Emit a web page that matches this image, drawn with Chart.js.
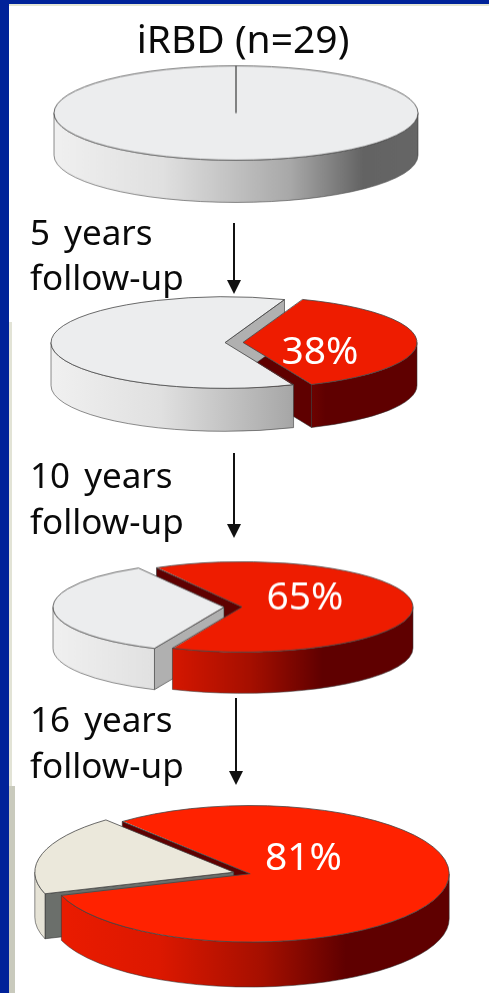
<!DOCTYPE html>
<html>
<head>
<meta charset="utf-8">
<title>iRBD follow-up</title>
<script src="https://cdn.jsdelivr.net/npm/chart.js@4"></script>
<style>
	html, body { margin: 0; padding: 0; }
	body { width: 489px; height: 993px; overflow: hidden; background: #fff; position: relative; }
	.frame { position: absolute; background: #002299; }
	.strip { position: absolute; background: #c9cabd; }
	.txt { position: absolute; color: #0a0a0a; font-family: "Noto Sans", sans-serif; font-size: 35px; line-height: 46px; word-spacing: 5px; white-space: nowrap; filter: blur(0.4px); }
	.title { font-size: 39px; word-spacing: 0; }
	canvas { position: absolute; filter: blur(0.4px); }
	svg { position: absolute; }
</style>
</head>
<body>
<div class="frame" style="left:0;top:0;width:489px;height:4px"></div>
<div class="strip" style="left:0;top:4px;width:489px;height:2px;background:#e4e6d4"></div>
<div class="frame" style="left:0;top:0;width:9px;height:993px"></div>
<div class="strip" style="left:9px;top:322px;width:3px;height:464px;background:#e2e3d6"></div>
<div class="strip" style="left:9px;top:786px;width:6px;height:207px"></div>
<div id="page"></div>

<script>
const chartTitle = "iRBD (n=29)";
const followUpYears = ["5 years", "10 years", "16 years"];
const followUpWord = "follow-up";
const convertedPct = [0, 38, 65, 81];
const remainingPct = [100, 62, 35, 19];

// where each pie sits on the page, and how it looks
const pieLayout = [
	{ cx: 236, cy: 113, rx: 182, squash: 0.258, depth: 42, offset: 0, rotation: 0 },
	{ cx: 234, cy: 342.5, rx: 174, squash: 0.263, depth: 43, offset: 36, rotation: 20 },
	{ cx: 233, cy: 607, rx: 171, squash: 0.263, depth: 41, offset: 36, rotation: -30 },
	{ cx: 241.5, cy: 873, rx: 199, squash: 0.343, depth: 45, offset: 34, rotation: -40 },
];
const labelPos = [null, [320, 353], [305, 598], [303, 859]];
const redTop = ["#ee1c00", "#ee1c00", "#ee1c00", "#ff2200"];
const greyTop = ["#ecedee", "#ecedee", "#ecedee", "#ebe8db"];
const greyFace = ["#b0b0b0", "#b0b0b0", "#b0b0b0", "#6b6f6b"];
const redStops = [[0, "#ee1c00"], [0.3, "#dc1800"], [0.55, "#a50f00"], [0.75, "#5f0000"], [1, "#5f0000"]];
const greyStops = [[0, "#f0f0f0"], [0.3, "#e0e0e0"], [0.65, "#a8a8a8"], [0.85, "#636363"], [1, "#666666"]];
const beigeStops = [[0, "#e6e3d6"], [1, "#d8d5c8"]];

// the arc element paints itself wider than outerRadius when it has an offset
function radiusGrowth(arc) {
	const off = (arc.options.offset || 0) / 4;
	return off * (1 - Math.sin(Math.min(Math.PI, arc.circumference || 0)));
}

/**
 * Screen geometry of one arc element once squashed and pushed out by its offset
 */
function arcShape(arc, k) {
	const p = arc.getProps(["x", "y", "startAngle", "endAngle", "outerRadius"], true);
	const off = (arc.options.offset || 0) / 4;
	const mid = (p.startAngle + p.endAngle) / 2;
	const r = p.outerRadius + radiusGrowth(arc);
	return {
		x: p.x + Math.cos(mid) * off,
		y: p.y + Math.sin(mid) * off * k,
		rx: r,
		ry: r * k,
		start: p.startAngle,
		end: p.endAngle,
	};
}

// parts of the arc that face the viewer, angles between 0 and PI
function frontRanges(s) {
	const out = [];
	for (let n = -2; n <= 2; n++) {
		const a = Math.max(s.start, n * 2 * Math.PI);
		const b = Math.min(s.end, n * 2 * Math.PI + Math.PI);
		if (b > a) out.push([a, b]);
	}
	return out;
}

function holdsFront(s) {
	for (let n = -2; n <= 2; n++) {
		const bottom = Math.PI / 2 + n * 2 * Math.PI;
		if (s.start < bottom && s.end > bottom) return 1;
	}
	return 0;
}

function makeGradient(ctx, left, right, stops) {
	const g = ctx.createLinearGradient(left, 0, right, 0);
	stops.forEach((st) => g.addColorStop(st[0], st[1]));
	return g;
}

function drawFace(ctx, s, a, depth, color) {
	const ex = s.x + Math.cos(a) * s.rx;
	const ey = s.y + Math.sin(a) * s.ry;
	ctx.beginPath();
	ctx.moveTo(s.x, s.y);
	ctx.lineTo(ex, ey);
	ctx.lineTo(ex, ey + depth);
	ctx.lineTo(s.x, s.y + depth);
	ctx.closePath();
	ctx.fillStyle = color;
	ctx.fill();
	ctx.strokeStyle = "rgba(50,50,50,0.6)";
	ctx.lineWidth = 1;
	ctx.stroke();
}

function drawWall(ctx, s, range, depth, fill) {
	ctx.beginPath();
	ctx.ellipse(s.x, s.y, s.rx, s.ry, 0, range[0], range[1]);
	ctx.ellipse(s.x, s.y + depth, s.rx, s.ry, 0, range[1], range[0], true);
	ctx.closePath();
	ctx.fillStyle = fill;
	ctx.fill();
	ctx.strokeStyle = "rgba(50,50,50,0.55)";
	ctx.lineWidth = 1;
	ctx.stroke();
}

// draws side walls under the library's arcs and squashes the arcs into ellipses
const pie3d = {
	id: "pie3d",
	afterDatasetsUpdate(chart, args, opts) {
		// keep both slices of a pie on the same radius
		chart.getDatasetMeta(0).data.forEach((arc) => {
			arc.outerRadius = opts.rx - radiusGrowth(arc);
		});
	},
	beforeDatasetsDraw(chart, args, opts) {
		const ctx = chart.ctx;
		const k = opts.squash;
		const arcs = chart.getDatasetMeta(0).data;
		const shapes = arcs.map((a) => arcShape(a, k));
		const left = chart.width / 2 - opts.rx - opts.offset / 4;
		const right = chart.width / 2 + opts.rx + opts.offset / 4;
		const used = shapes.map((s, i) => i).filter((i) => arcs[i].circumference > 0);

		// radial cut faces turned towards the viewer go first
		used.forEach((i) => {
			const s = shapes[i];
			if (Math.sin(s.start - Math.PI / 2) > 0) drawFace(ctx, s, s.start, opts.depth, opts.faces[i]);
			if (Math.sin(s.end + Math.PI / 2) > 0) drawFace(ctx, s, s.end, opts.depth, opts.faces[i]);
		});

		// the wall holding the very front of the pie is painted last
		used.sort((a, b) => holdsFront(shapes[a]) - holdsFront(shapes[b]));
		used.forEach((i) => {
			const fill = makeGradient(ctx, left, right, opts.walls[i]);
			frontRanges(shapes[i]).forEach((r) => drawWall(ctx, shapes[i], r, opts.depth, fill));
		});

		const cx = chart.width / 2;
		const cy = chart.height / 2;
		ctx.save();
		ctx.translate(cx, cy);
		ctx.scale(1, k);
		ctx.translate(-cx, -cy);
	},
	afterDatasetsDraw(chart, args, opts) {
		const ctx = chart.ctx;
		ctx.restore();
		chart.getDatasetMeta(0).data.forEach((arc) => {
			if (arc.circumference <= 0) return;
			const s = arcShape(arc, opts.squash);
			ctx.beginPath();
			ctx.moveTo(s.x, s.y);
			ctx.ellipse(s.x, s.y, s.rx, s.ry, 0, s.start, s.end);
			ctx.closePath();
			ctx.strokeStyle = "rgba(70,70,70,0.8)";
			ctx.lineWidth = 1;
			ctx.stroke();
		});
		if (opts.label) {
			const box = chart.canvas.getBoundingClientRect();
			ctx.fillStyle = "#ffffff";
			ctx.font = '39px "Noto Sans", sans-serif';
			ctx.textAlign = "center";
			ctx.textBaseline = "middle";
			ctx.fillText(opts.label, opts.labelAt[0] - box.left, opts.labelAt[1] - box.top);
		}
	},
};

function addText(text, left, top, cls) {
	const el = document.createElement("div");
	el.className = "txt " + (cls || "");
	el.textContent = text;
	el.style.left = left + "px";
	el.style.top = top + "px";
	if (cls) el.style.transform = "translateX(-50%)";
	document.getElementById("page").appendChild(el);
}

function addArrow(x, top, bottom) {
	const ns = "http://www.w3.org/2000/svg";
	const svg = document.createElementNS(ns, "svg");
	svg.setAttribute("width", 20);
	svg.setAttribute("height", bottom - top);
	svg.style.left = x - 10 + "px";
	svg.style.top = top + "px";
	const h = bottom - top;
	svg.innerHTML = `<path d="M10 0V${h - 12}" stroke="#111" stroke-width="2" fill="none"/><path d="M3 ${h - 14}H17L10 ${h}Z" fill="#111"/>`;
	document.getElementById("page").appendChild(svg);
}

function drawPie(i) {
	const l = pieLayout[i];
	const canvas = document.createElement("canvas");
	const w = 2 * (l.rx + 30);
	const h = 2 * (l.rx * l.squash + l.depth + 20);
	canvas.width = w;
	canvas.height = h;
	canvas.style.left = l.cx - w / 2 + "px";
	canvas.style.top = l.cy - h / 2 + "px";
	canvas.style.width = w + "px";
	canvas.style.height = h + "px";
	document.getElementById("page").appendChild(canvas);

	new Chart(canvas, {
		type: "pie",
		data: {
			labels: ["Converted", "Disease-free"],
			datasets: [
				{
					data: [convertedPct[i], remainingPct[i]],
					backgroundColor: [redTop[i], greyTop[i]],
					borderWidth: 0,
					offset: l.offset,
					clip: false,
				},
			],
		},
		options: {
			responsive: false,
			animation: false,
			devicePixelRatio: 1,
			rotation: l.rotation,
			radius: l.rx,
			events: [],
			plugins: {
				legend: { display: false },
				tooltip: { enabled: false },
				pie3d: {
					squash: l.squash,
					depth: l.depth,
					rx: l.rx,
					offset: l.offset,
					faces: ["#5f0000", greyFace[i]],
					walls: [redStops, i === 3 ? beigeStops : greyStops],
					label: convertedPct[i] > 0 ? convertedPct[i] + "%" : "",
					labelAt: labelPos[i],
				},
			},
		},
		plugins: [pie3d],
	});
}

addText(chartTitle, 243, 15, "title");
addText(followUpYears[0], 30, 209);
addText(followUpWord, 30, 254);
addText(followUpYears[1], 30, 452);
addText(followUpWord, 30, 498);
addText(followUpYears[2], 30, 696);
addText(followUpWord, 30, 742);
addArrow(234, 223, 294);
addArrow(234, 453, 538);
addArrow(236, 698, 785);
pieLayout.forEach((l, i) => drawPie(i));
</script>
</body>
</html>
